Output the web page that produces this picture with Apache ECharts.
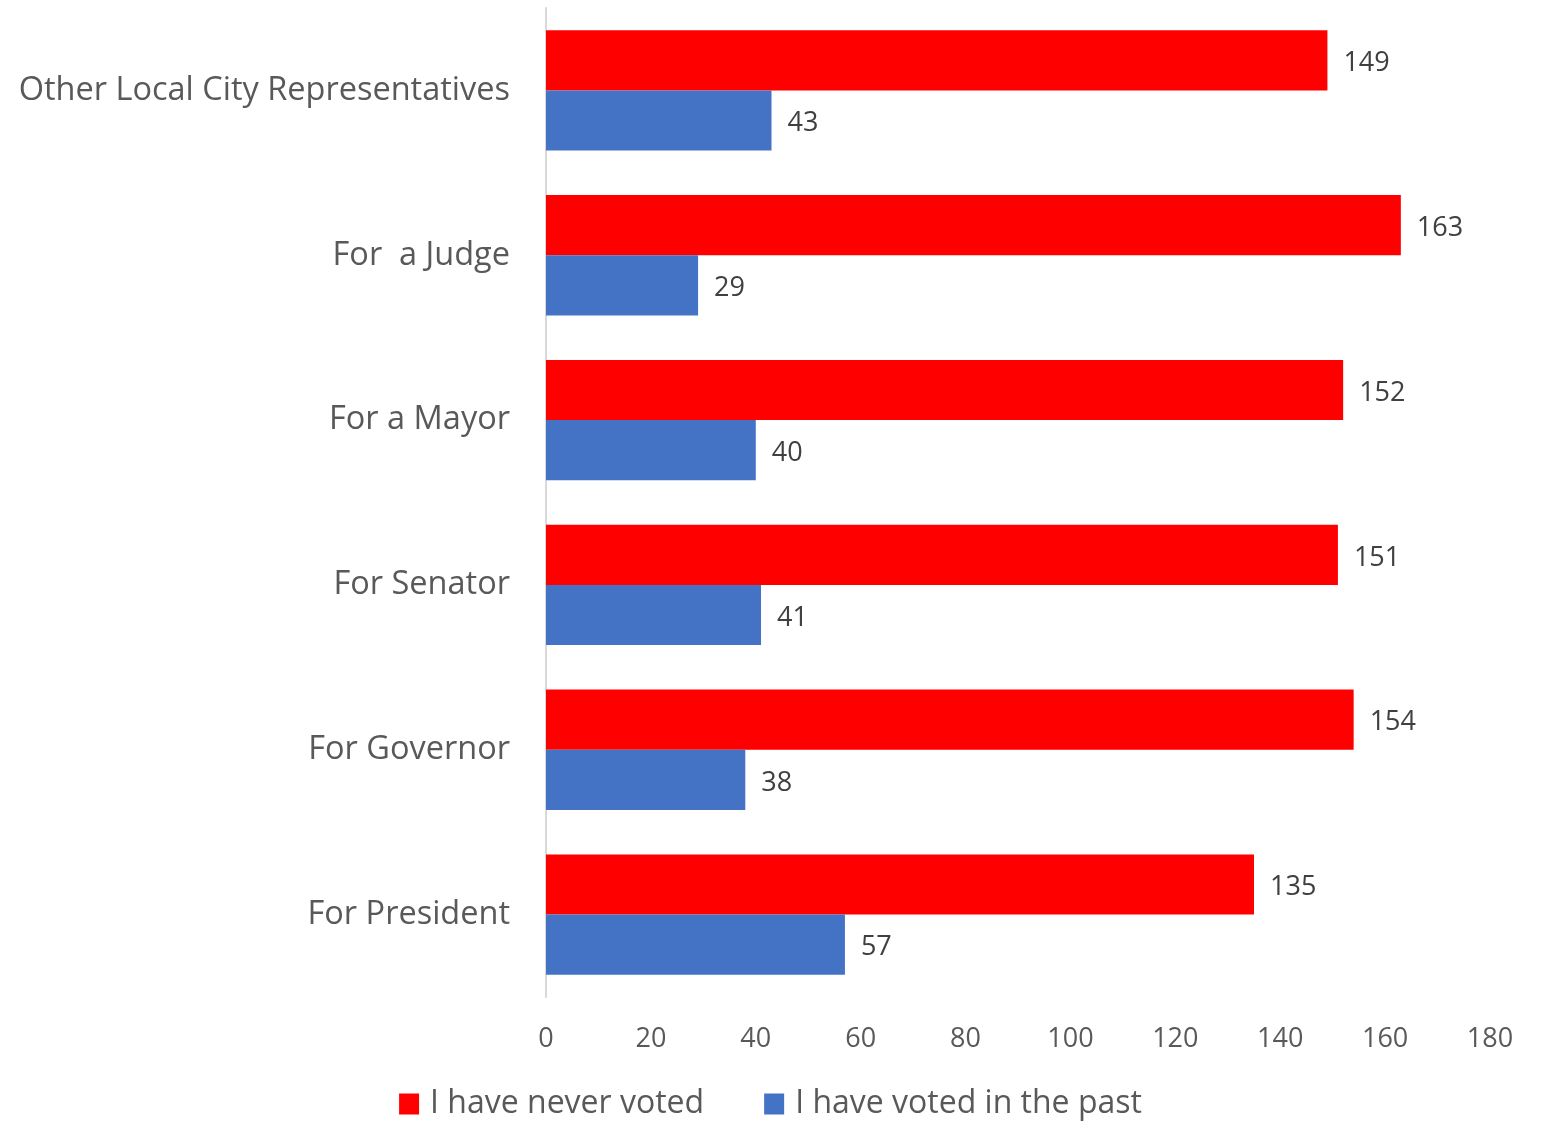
<!DOCTYPE html>
<html>
<head>
<meta charset="utf-8">
<script src="https://cdn.jsdelivr.net/npm/echarts@6/dist/echarts.min.js"></script>
<style>html,body{margin:0;padding:0;background:#fff;}#c{width:1541px;height:1121px;}</style>
</head>
<body>
<div id="c"></div>
<script>
const categories = ['For President', 'For Governor', 'For Senator', 'For a Mayor', 'For  a Judge', 'Other Local City Representatives'];
const neverVoted = [135, 154, 151, 152, 163, 149];
const votedPast = [57, 38, 41, 40, 29, 43];
const xTicks = [0, 20, 40, 60, 80, 100, 120, 140, 160, 180];

const font = 'Open Sans';
const chart = echarts.init(document.getElementById('c'));
chart.setOption({
  animation: false,
  textStyle: { fontFamily: font },
  grid: { left: 546, right: 51, top: 8, bottom: 124, containLabel: false },
  legend: {
    data: ['I have never voted', 'I have voted in the past'],
    top: 1083,
    left: 'center',
    itemWidth: 20, itemHeight: 21, itemGap: 60,
    icon: 'rect',
    textStyle: { fontFamily: font, fontSize: 32, color: '#595959', padding: [0, 0, 0, 6] }
  },
  xAxis: {
    type: 'value', min: xTicks[0], max: xTicks[xTicks.length - 1], interval: 20,
    axisLine: { show: false }, axisTick: { show: false }, splitLine: { show: false },
    axisLabel: { fontFamily: font, fontSize: 27, color: '#595959', margin: 29 }
  },
  yAxis: {
    type: 'category', data: categories,
    axisLine: { show: true, lineStyle: { color: '#D9D9D9', width: 2 } },
    axisTick: { show: false },
    axisLabel: { fontFamily: font, fontSize: 32.5, color: '#595959', margin: 36, padding: [4, 0, 0, 0] }
  },
  series: [
    {
      name: 'I have never voted', type: 'bar', data: neverVoted,
      itemStyle: { color: '#FF0000' }, barGap: '0%', barCategoryGap: '27%',
      label: { show: true, position: 'right', distance: 16, offset: [0, 3], fontFamily: font, fontSize: 27, color: '#404040' }
    },
    {
      name: 'I have voted in the past', type: 'bar', data: votedPast,
      itemStyle: { color: '#4472C4' }, barGap: '0%', barCategoryGap: '27%',
      label: { show: true, position: 'right', distance: 16, offset: [0, 3], fontFamily: font, fontSize: 27, color: '#404040' }
    }
  ]
});
</script>
</body>
</html>
